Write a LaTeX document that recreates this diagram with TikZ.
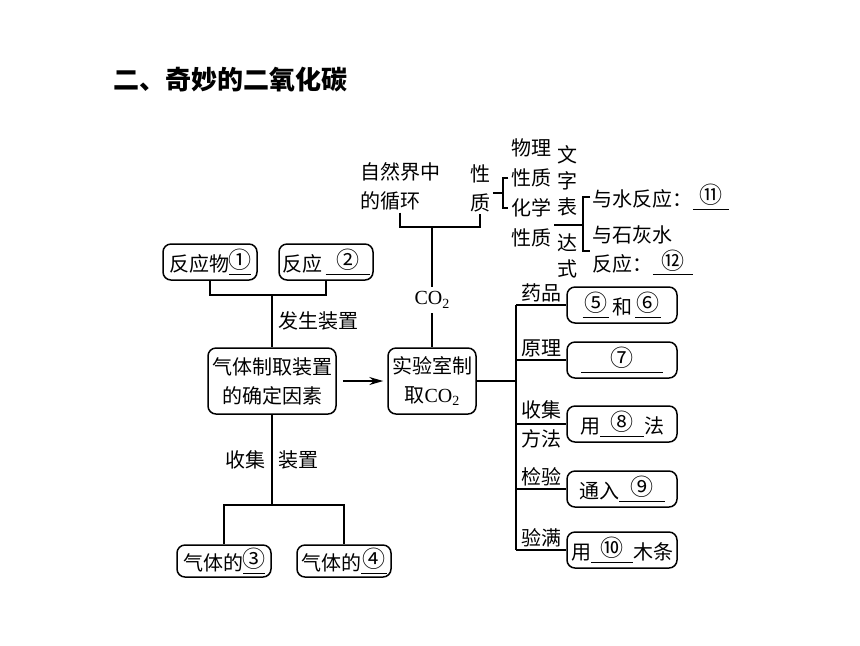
\documentclass[tikz,border=0pt]{standalone}
\usepackage{fontspec}
\usetikzlibrary{arrows.meta}
\newfontfamily\cjk{Noto Sans CJK SC}
\newfontfamily\tnr{Liberation Serif}
\newcommand{\blankfill}[2]{\underline{\makebox[#1]{\raisebox{0.25ex}{\scalebox{1.15}{#2}}}}}
\newcommand{\cotwo}{{\tnr CO\raisebox{-0.4ex}{\scriptsize 2}}}
\tikzset{
  every node/.style = {font = \cjk\fontsize{10}{14.5}\selectfont, inner sep = 1pt},
  box/.style = {draw, rounded corners = 4pt, align = center},
  colbox/.style = {font = \cjk\fontsize{10}{13}\selectfont, align = center},
  online/.style = {anchor = center},
}

\begin{document}
\begin{tikzpicture}[x = 0.5pt, y = -0.5pt, line width = 0.75pt]
  \useasboundingbox (0, 0) rectangle (860, 645);
  % title
  \node[anchor = west, font = \cjk\bfseries\fontsize{13}{15}\selectfont] (title) at (111, 80) {二、奇妙的二氧化碳};
  % top part: cycle and properties
  \node[align = left] (cycle) at (400, 186) {自然界中\\的循环};
  \node[align = center] (prop) at (480, 188) {性\\质};
  \node (phys1) at (531, 148) {物理};
  \node (phys) at (531, 178) {性质};
  \node (chem) at (531, 208) {化学};
  \node (chem2) at (531, 238) {性质};
  \node[colbox] (expr1) at (567, 181) {文\\字\\表};
  \node[colbox] (expr2) at (567, 256) {达\\式};
  \node[anchor = west] (water) at (590, 197) {与水反应：\blankfill{1.8em}{⑪}};
  \node[anchor = west, align = left] (lime) at (590, 251) {与石灰水\\反应：\blankfill{2em}{⑫}};
  \coordinate (jtop) at (432, 227);
  \coordinate (pbr) at (503, 193);
  \coordinate (wbr) at (583, 225);
  \draw (cycle.south) |- (jtop) -| (prop.south);
  \draw (prop.east |- pbr) -- (pbr);
  \draw (phys.west) -| (pbr) |- (chem.west);
  \draw (wbr -| expr1.west) -- (wbr);
  \draw (water.west) -| (wbr) |- (lime.west);
  % left part: deciding the apparatus
  \node[box, minimum width = 47pt, minimum height = 18pt] (react) at (210, 262) {反应物\blankfill{1.1em}{①}};
  \node[box, minimum width = 47pt, minimum height = 18pt] (cond) at (326, 262) {反应\,\blankfill{2.2em}{②}};
  \node[box, minimum width = 64pt, minimum height = 33pt] (gas) at (272, 381) {气体制取装置\\的确定因素};
  \node[box, minimum width = 44pt, minimum height = 33pt] (lab) at (432, 381) {实验室制\\取\cotwo};
  \node[box, minimum width = 47pt, minimum height = 16pt] (gasA) at (224, 561) {气体的\blankfill{1.1em}{③}};
  \node[box, minimum width = 47pt, minimum height = 16pt] (gasB) at (344, 561) {气体的\blankfill{1.3em}{④}};
  \node[fill = white, inner sep = 2pt] (co2) at (432, 300) {\cotwo};
  \coordinate (jgen) at (272, 295);
  \coordinate (jcol) at (272, 505);
  \draw (react.south) |- (jgen) -| (cond.south);
  \draw (jgen) -- (gas.north) node[midway, right = 2pt] {发生装置};
  \draw[-{Stealth[length = 7pt, width = 4pt]}, shorten <= 3pt, shorten >= 2pt] (gas) -- (lab);
  \draw (jtop) -- (co2);
  \draw (co2) -- (lab);
  \draw (gas.south) -- (jcol) node[midway, left = 2pt] {收集} node[midway, right = 2pt] {装置};
  \draw (gasA.north) |- (jcol) -| (gasB.north);
  % right part: drugs, principle, collecting, testing
  \node[box, minimum width = 55pt, minimum height = 18pt] (drug) at (622, 305) {\blankfill{1.3em}{⑤}\,和\,\blankfill{1.3em}{⑥}};
  \node[box, minimum width = 55pt, minimum height = 18pt] (prin) at (622, 360) {\blankfill{4.1em}{⑦}};
  \node[box, minimum width = 55pt, minimum height = 18pt] (coll) at (622, 424) {用\blankfill{2.2em}{⑧}法};
  \node[box, minimum width = 55pt, minimum height = 18pt] (test) at (622, 489) {通入\blankfill{2.3em}{⑨}};
  \node[box, minimum width = 55pt, minimum height = 18pt] (full) at (622, 550) {用\blankfill{2.1em}{⑩}木条};
  \coordinate (rj) at (516, 381);
  \draw (lab.east) -- (rj);
  \draw (rj |- drug.west) -- (rj |- full.west);
  \foreach \n/\t/\p in {drug/药品/above, prin/原理/above, coll/{收集\\方法}/online, test/检验/above, full/验满/above}{
    \draw (rj |- \n.west) -- (\n.west) node[midway, \p, align = center] {\t};
  }
\end{tikzpicture}
\end{document}
